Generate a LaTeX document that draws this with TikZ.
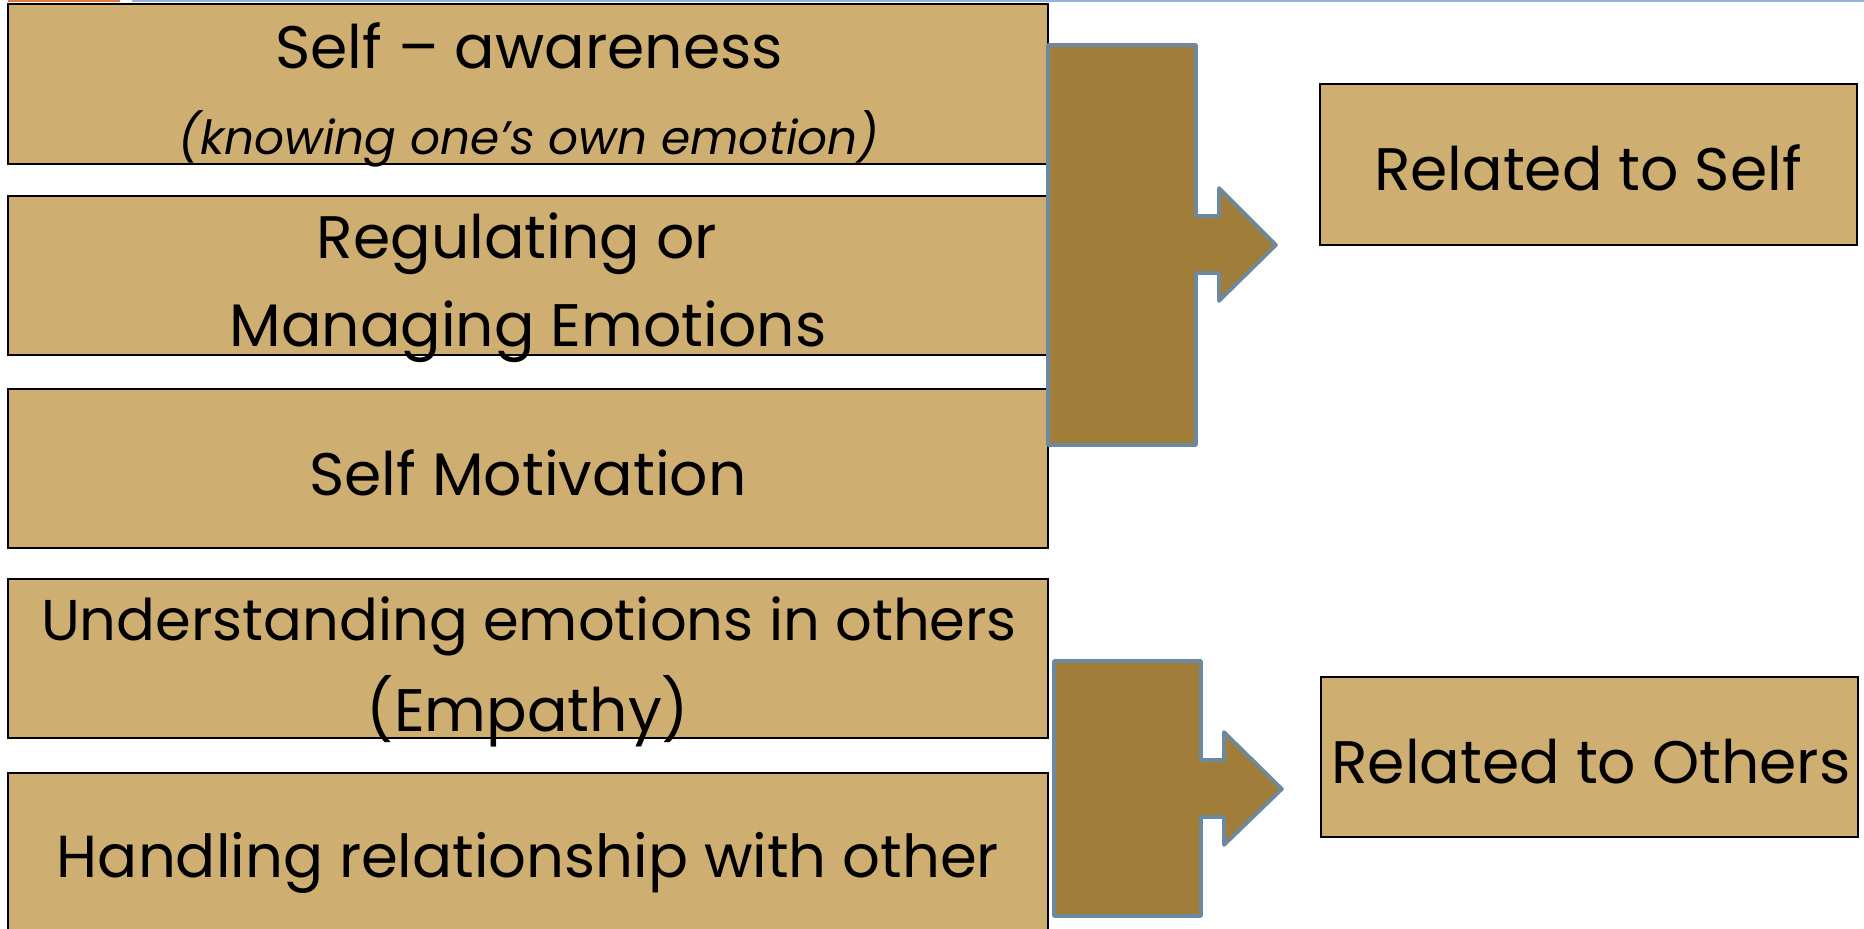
\documentclass[tikz,border=0pt]{standalone}
\usepackage{fontspec}
\setmainfont{Poppins}
\definecolor{boxtan}{RGB}{207,174,114}
\definecolor{arrowbrown}{RGB}{160,125,56}
\definecolor{arrowedge}{RGB}{109,137,160}
\definecolor{topblue}{RGB}{149,179,215}
\definecolor{toporange}{RGB}{224,120,64}
\tikzset{
  box/.style={draw=black, line width=2.4pt, fill=boxtan, inner sep=0pt, rectangle},
  lbl/.style={inner sep=0pt, anchor=base, font=\fontsize{60}{64}\selectfont},
  sublbl/.style={inner sep=0pt, anchor=base, font=\fontsize{47}{50}\selectfont\itshape},
  bent/.style={fill=arrowbrown, draw=arrowedge, line width=3.6pt, line join=round},
}
\begin{document}
\begin{tikzpicture}[x=1pt,y=-1pt]
\useasboundingbox (0,0) rectangle (1864,929);
\clip (0,0) rectangle (1864,929);
% thin rules along the top edge
\fill[toporange] (8,0) rectangle (120,2.2);
\fill[topblue] (132,0) rectangle (1864,2.2);
% left column of boxes
\node[box, minimum width=1040pt, minimum height=160pt] (b1) at (528,84) {};
\node[box, minimum width=1040pt, minimum height=159pt] (b2) at (528,275.5) {};
\node[box, minimum width=1040pt, minimum height=159pt] (b3) at (528,468.5) {};
\node[box, minimum width=1040pt, minimum height=159pt] (b4) at (528,658.5) {};
\node[box, minimum width=1040pt, minimum height=190pt] (b5) at (528,868) {};
% right column of boxes
\node[box, minimum width=537pt, minimum height=161pt] (rs) at (1588.5,164.5) {};
\node[box, minimum width=537pt, minimum height=160pt] (ro) at (1589.5,757) {};
% bent arrows
\draw[bent] (1048,45) -- (1196,45) -- (1196,216) -- (1219,216) -- (1219,188)
  -- (1276,245) -- (1219,301) -- (1219,273) -- (1196,273) -- (1196,445)
  -- (1048,445) -- cycle;
\draw[bent] (1054,661) -- (1201,661) -- (1201,760) -- (1224,760) -- (1224,732)
  -- (1282,789) -- (1224,845) -- (1224,817) -- (1201,817) -- (1201,916)
  -- (1054,916) -- cycle;
% labels
\node[lbl] (t1) at (529,68) {Self – awareness};
\node[sublbl] (t1s) at (529,154) {(knowing one’s own emotion)};
\node[lbl] (t2a) at (517,258) {Regulating or};
\node[lbl] (t2b) at (528,346) {Managing Emotions};
\node[lbl] (t3) at (528,495) {Self Motivation};
\node[lbl, font=\fontsize{57.5}{62}\selectfont] (t4a) at (529,640) {Understanding emotions in others};
\node[lbl] (t4b) at (528,731) {(Empathy)};
\node[lbl, font=\fontsize{59.3}{63}\selectfont] (t5) at (528,877) {Handling relationship with other};
\node[lbl] (trs) at (1588,190) {Related to Self};
\node[lbl] (tro) at (1591,783) {Related to Others};
\end{tikzpicture}
\end{document}
